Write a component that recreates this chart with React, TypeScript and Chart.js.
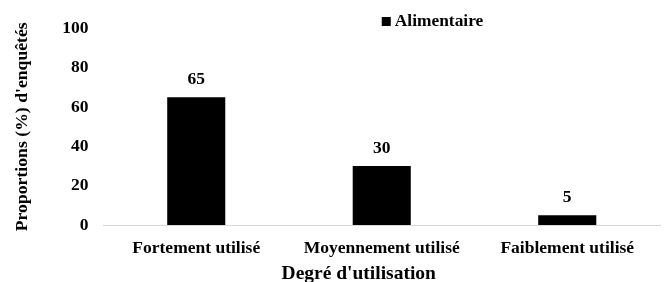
import React, { useEffect, useRef } from "react";
import { Chart, registerables } from "chart.js";

Chart.register(...registerables);

const categories = ["Fortement utilisé", "Moyennement utilisé", "Faiblement utilisé"];
const seriesLabel = "Alimentaire";
const values = [65, 30, 5];
const yTitle = "Proportions (%) d'enquêtés";
const xTitle = "Degré d'utilisation";
const yMin = 0;
const yMax = 100;
const yStep = 20;

const FAMILY = "'Liberation Serif', 'Times New Roman', serif";

const customPlugin = {
  id: "customDraw",
  afterDatasetsDraw(chart: any) {
    const { ctx, chartArea } = chart;
    ctx.save();
    // data labels
    ctx.fillStyle = "#000";
    ctx.font = `bold 17.5px ${FAMILY}`;
    ctx.textAlign = "center";
    ctx.textBaseline = "middle";
    const meta = chart.getDatasetMeta(0);
    meta.data.forEach((bar: any, i: number) => {
      ctx.fillText(String(values[i]), bar.x, bar.y - 18);
    });
    // legend
    const lx = (chartArea.left + chartArea.right) / 2;
    const ly = chartArea.top - 7;
    ctx.fillRect(lx, ly - 4.5, 9, 9);
    ctx.font = `bold 17.4px ${FAMILY}`;
    ctx.textAlign = "left";
    ctx.fillText(chart.data.datasets[0].label, lx + 13, ly);
    // x axis title
    ctx.font = `bold 19.5px ${FAMILY}`;
    ctx.textAlign = "center";
    ctx.fillText(xTitle, (chartArea.left + chartArea.right) / 2 - 23, chartArea.bottom + 49);
    ctx.restore();
  },
};

export default function App() {
  const ref = useRef<HTMLCanvasElement>(null);
  useEffect(() => {
    if (!ref.current) return;
    const chart = new Chart(ref.current, {
      type: "bar",
      data: {
        labels: categories,
        datasets: [
          {
            label: seriesLabel,
            data: values,
            backgroundColor: "#000000",
            borderWidth: 0,
            barPercentage: 0.313,
            categoryPercentage: 1,
          },
        ],
      },
      options: {
        animation: false,
        responsive: false,
        layout: { padding: { left: 0, right: 5, top: 28.5, bottom: 11 } },
        plugins: { legend: { display: false }, tooltip: { enabled: false } },
        scales: {
          x: {
            grid: { display: false, drawTicks: false },
            border: { display: true, color: "#d9d9d9", width: 1 },
            ticks: {
              color: "#000",
              font: { family: FAMILY, size: 17.5, weight: "bold" },
              padding: 12.5,
              maxRotation: 0,
            },
          },
          y: {
            min: yMin,
            max: yMax,
            grid: { display: false, drawTicks: false },
            border: { display: false },
            ticks: {
              stepSize: yStep,
              color: "#000",
              font: { family: FAMILY, size: 17.5, weight: "bold" },
              padding: 15,
            },
            title: {
              display: true,
              text: yTitle,
              color: "#000",
              font: { family: FAMILY, size: 17.7, weight: "bold" },
              padding: { top: 12, bottom: 14 },
            },
          },
        },
      },
      plugins: [customPlugin],
    });
    return () => chart.destroy();
  }, []);
  return (
    <div style={{ position: "absolute", left: 0, top: 0, width: 665, height: 282, background: "#fff" }}>
      <canvas ref={ref} width={665} height={282} style={{ display: "block" }} />
    </div>
  );
}
